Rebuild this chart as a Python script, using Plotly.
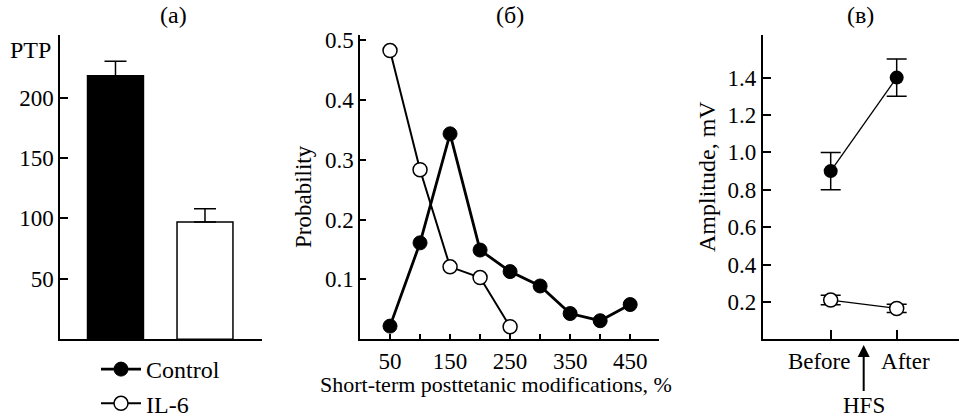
import plotly.graph_objects as go

W, H = 959, 418
FONT = "Liberation Serif"
FS = 23

# ---- data ----
groups = ["Control", "IL-6"]
ptp_values = [218, 97]
ptp_err = [12, 11]

mod_x = [50, 100, 150, 200, 250, 300, 350, 400, 450]
control_prob = [0.022, 0.161, 0.343, 0.149, 0.113, 0.089, 0.043, 0.031, 0.058]
il6_x = [50, 100, 150, 200, 250]
il6_prob = [0.482, 0.283, 0.121, 0.103, 0.021]

phase_labels = ["Before\u00a0\u00a0\u00a0\u00a0", "\u00a0\u00a0\u00a0After"]
control_amp = [0.90, 1.40]
control_amp_err = [0.10, 0.10]
il6_amp = [0.21, 0.165]
il6_amp_err = [0.025, 0.022]

# ---- layout helpers ----
def px(x):
    return x / W

def py(y):
    return 1 - y / H

ydom = [py(339.3), py(35)]

fig = go.Figure()

# panel (a) bars
fig.add_trace(go.Bar(
    x=[0, 1], y=ptp_values, width=0.625,
    marker=dict(color=["black", "white"], line=dict(color="black", width=1.5)),
    error_y=dict(type="data", array=ptp_err, arrayminus=[0, 0], symmetric=False,
                 color="black", thickness=1.5, width=11),
    showlegend=False, xaxis="x", yaxis="y"))

# panel (б) lines
fig.add_trace(go.Scatter(
    x=mod_x, y=control_prob, mode="lines+markers", name="Control",
    line=dict(color="black", width=2.8),
    marker=dict(symbol="circle", size=14, color="black", line=dict(color="black", width=1)),
    xaxis="x2", yaxis="y2", showlegend=True))
fig.add_trace(go.Scatter(
    x=il6_x, y=il6_prob, mode="lines+markers", name="IL-6",
    line=dict(color="black", width=2),
    marker=dict(symbol="circle", size=14, color="white", line=dict(color="black", width=1.5)),
    xaxis="x2", yaxis="y2", showlegend=True))

# panel (в)
fig.add_trace(go.Scatter(
    x=[0, 1], y=control_amp, mode="lines+markers",
    line=dict(color="black", width=1.3),
    marker=dict(symbol="circle", size=14, color="black"),
    error_y=dict(type="data", array=control_amp_err, color="black", thickness=1.5, width=10),
    xaxis="x3", yaxis="y3", showlegend=False))
fig.add_trace(go.Scatter(
    x=[0, 1], y=il6_amp, mode="lines+markers",
    line=dict(color="black", width=1.3),
    marker=dict(symbol="circle", size=14, color="white", line=dict(color="black", width=1.5)),
    error_y=dict(type="data", array=il6_amp_err, color="black", thickness=1.5, width=10),
    xaxis="x3", yaxis="y3", showlegend=False))

axis_common = dict(showgrid=False, zeroline=False, showline=True, linecolor="black",
                   linewidth=1.5, tickcolor="black", tickwidth=1.5, tickangle=0,
                   automargin=False,
                   tickfont=dict(family=FONT, size=FS, color="black"))

fig.update_layout(
    width=W, height=H, margin=dict(l=0, r=0, t=0, b=0, autoexpand=False),
    paper_bgcolor="white", plot_bgcolor="white",
    font=dict(family=FONT, size=FS, color="black"),
    xaxis=dict(domain=[px(60), px(262)], range=[-0.62, 1.637], showticklabels=False,
               ticks="", anchor="y", **axis_common),
    yaxis=dict(domain=ydom, range=[0, 251.7], tickvals=[50, 100, 150, 200],
               ticks="inside", ticklen=8, anchor="x", **axis_common),
    xaxis2=dict(domain=[px(360), px(659)], range=[0, 498], tickvals=list(range(50, 501, 50)),
                ticktext=["50", "", "150", "", "250", "", "350", "", "450", ""],
                ticks="inside", ticklen=6, anchor="y2", **axis_common),
    yaxis2=dict(domain=ydom, range=[0, 0.508], tickvals=[0.1, 0.2, 0.3, 0.4, 0.5],
                ticktext=["0.1", "0.2", "0.3", "0.4", "0.5"],
                ticks="inside", ticklen=6, anchor="x2", **axis_common),
    xaxis3=dict(domain=[px(762.7), 1.0], range=[-1.03, 1.944], tickvals=[0, 1],
                ticktext=phase_labels, ticks="inside", ticklen=10, anchor="y3", **axis_common),
    yaxis3=dict(domain=ydom, range=[0, 1.628], tickvals=[0.2, 0.4, 0.6, 0.8, 1.0, 1.2, 1.4],
                ticktext=["0.2", "0.4", "0.6", "0.8", "1.0", "1.2", "1.4"],
                ticks="inside", ticklen=9, anchor="x3", **axis_common),
    legend=dict(x=px(96), y=py(347), xanchor="left", yanchor="top",
                font=dict(family=FONT, size=24, color="black"),
                bgcolor="rgba(0,0,0,0)", tracegroupgap=0, itemwidth=40),
    showlegend=True,
)

ann = [
    dict(text="(a)", x=px(173), y=py(15), size=24),
    dict(text="(б)", x=px(510), y=py(15), size=24),
    dict(text="(в)", x=px(860), y=py(15), size=24),
    dict(text="PTP", x=px(30), y=py(50), size=24),
    dict(text="Probability", x=px(303), y=py(197), textangle=-90, size=23),
    dict(text="Amplitude, mV", x=px(707), y=py(177), textangle=-90, size=24),
    dict(text="Short-term posttetanic modifications, %", x=px(496), y=py(384), size=22),
]
for a in ann:
    size = a.pop("size")
    fig.add_annotation(xref="paper", yref="paper", showarrow=False,
                       xanchor="center", yanchor="middle",
                       font=dict(family=FONT, size=size, color="black"), **a)

fig.add_annotation(xref="x3", yref="paper", x=0.5, y=py(345), text="HFS",
                   showarrow=True, ax=0, ay=60, arrowhead=2, arrowsize=1.2,
                   arrowwidth=2, arrowcolor="black",
                   font=dict(family=FONT, size=FS, color="black"))

fig.write_html("out.html")
